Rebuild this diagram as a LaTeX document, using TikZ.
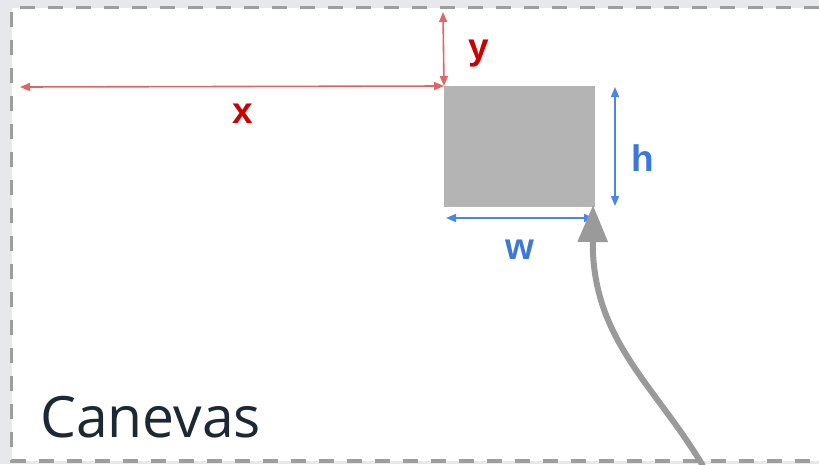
\documentclass[tikz,border=0pt]{standalone}
\usepackage{fontspec}
\setmainfont{Liberation Sans}
\newfontfamily\canfont{Open Sans}
\usetikzlibrary{arrows.meta}
\definecolor{outbg}{HTML}{E6E8EB}
\definecolor{border}{HTML}{9E9E9E}
\definecolor{objgray}{HTML}{B4B4B4}
\definecolor{redline}{HTML}{E06666}
\definecolor{redtext}{HTML}{CC0000}
\definecolor{blueline}{HTML}{4A86E8}
\definecolor{bluetext}{HTML}{3C78D8}
\definecolor{navy}{HTML}{1C2833}
\definecolor{arrowgray}{HTML}{9A9A9A}
\tikzset{
  dimred/.style={draw=redline, line width=1.6pt, {Triangle[length=10pt,width=8pt]}-{Triangle[length=10pt,width=8pt]}},
  dimblue/.style={draw=blueline, line width=1.6pt, {Triangle[length=10pt,width=8pt]}-{Triangle[length=10pt,width=8pt]}},
  redlab/.style={text=redtext, font=\fontsize{37}{40}\selectfont\bfseries, inner sep=0pt},
  bluelab/.style={text=bluetext, font=\fontsize{37}{40}\selectfont\bfseries, inner sep=0pt},
}
\begin{document}
\begin{tikzpicture}[x=1pt,y=-1pt]
\useasboundingbox (0,0) rectangle (819,464);
\fill[outbg] (0,0) rectangle (819,464);
\fill[white] (11.5,7.5) rectangle (819,461);
\draw[border, line width=3.6pt, dash pattern=on 15pt off 13pt] (819,7.5) -- (11.5,7.5) -- (11.5,461) -- (819,461);
\node[fill=objgray, minimum width=151pt, minimum height=121pt, inner sep=0pt, anchor=north west] (obj) at (444,86) {};
% x
\coordinate (xl) at (20,87);
\draw[dimred] (xl) -- (obj.north west);
\node[redlab] (xlab) at (243,114) {x};
% y
\coordinate (yt) at (443,12);
\draw[dimred] (yt) -- (obj.north west);
\node[redlab] (ylab) at (479,54) {y};
% h
\coordinate (ht) at (615,87);
\coordinate (hb) at (615,206);
\draw[dimblue] (ht) -- (hb);
\node[bluelab] (hlab) at (643,158) {h};
% w
\coordinate (wl) at (446,218);
\coordinate (wr) at (594,218);
\draw[dimblue] (wl) -- (wr);
\node[bluelab] (wlab) at (520,250) {w};
% curved arrow
\coordinate (cs) at (703,466);
\coordinate (ce) at (593,205);
\draw[arrowgray, line width=6pt, -{Triangle[length=37pt,width=29pt]}] (cs) .. controls (655,385) and (592,340) .. (ce);
% label
\node[text=navy, font=\canfont\fontsize{57}{60}\selectfont, anchor=base west, inner sep=0pt] (can) at (40,437) {Canevas};
\end{tikzpicture}
\end{document}
